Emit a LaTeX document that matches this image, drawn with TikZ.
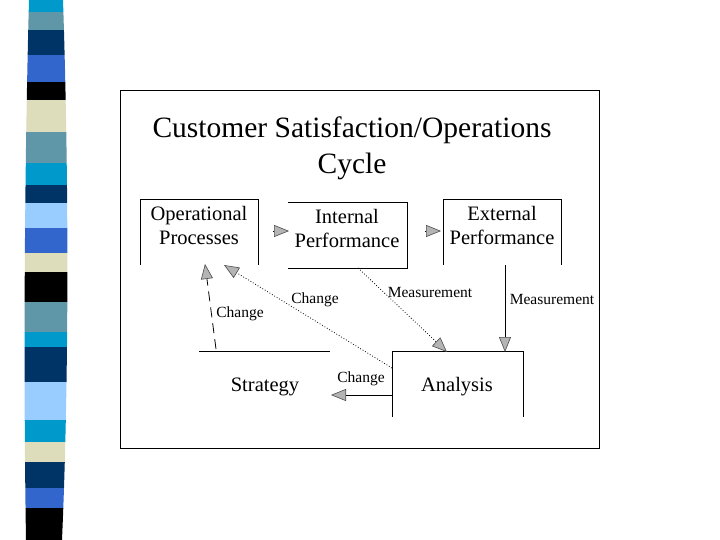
\documentclass[tikz,border=0pt]{standalone}
\usepackage{fontspec}
\setmainfont{Liberation Serif}
\usetikzlibrary{arrows.meta}
\definecolor{sCyan}{HTML}{0099CC}
\definecolor{sSteel}{HTML}{5F96A8}
\definecolor{sNavy}{HTML}{003366}
\definecolor{sRoyal}{HTML}{3366CC}
\definecolor{sBeige}{HTML}{DDDDBB}
\definecolor{sLight}{HTML}{99CCFF}
\definecolor{tipGray}{HTML}{B4B4B4}
\tikzset{
  boxline/.style={line width=1pt, black},
  boxtext/.style={font=\fontsize{20.5}{24}\selectfont, align=center, inner sep=0pt},
  lbl/.style={font=\fontsize{15.5}{17}\selectfont, inner sep=0pt},
  gtip/.style={-{Triangle[length=15pt,width=12pt,fill=tipGray,color=black!70,line width=0.6pt]}},
  conn/.style={line width=0.8pt, gtip},
}
\begin{document}
\begin{tikzpicture}[x=1pt,y=-1pt]
\useasboundingbox (0,0) rectangle (720,540);
\fill[white] (0,0) rectangle (720,540);
% left stripe
\begin{scope}
\clip (29,0) .. controls (25,150) and (23,350) .. (26,540) -- (62,540) .. controls (69,380) and (69,180) .. (63,0) -- cycle;
\fill[sCyan] (0,0) rectangle (80,12);
\fill[sSteel] (0,12) rectangle (80,30);
\fill[sNavy] (0,30) rectangle (80,55);
\fill[sRoyal] (0,55) rectangle (80,82);
\fill[black] (0,82) rectangle (80,100);
\fill[sBeige] (0,100) rectangle (80,132);
\fill[sSteel] (0,132) rectangle (80,163);
\fill[sCyan] (0,163) rectangle (80,185);
\fill[sNavy] (0,185) rectangle (80,203);
\fill[sLight] (0,203) rectangle (80,228);
\fill[sRoyal] (0,228) rectangle (80,253);
\fill[sBeige] (0,253) rectangle (80,272);
\fill[black] (0,272) rectangle (80,302);
\fill[sSteel] (0,302) rectangle (80,332);
\fill[sCyan] (0,332) rectangle (80,347);
\fill[sNavy] (0,347) rectangle (80,382);
\fill[sLight] (0,382) rectangle (80,420);
\fill[sCyan] (0,420) rectangle (80,442);
\fill[sBeige] (0,442) rectangle (80,462);
\fill[sNavy] (0,462) rectangle (80,488);
\fill[sRoyal] (0,488) rectangle (80,508);
\fill[black] (0,508) rectangle (80,540);
\end{scope}
% frame
\draw[line width=0.8pt] (120.5,90.5) rectangle (599.5,448.5);
% title
\node[font=\fontsize{29.5}{36}\selectfont, align=center, inner sep=0pt] (title) at (352,148) {Customer Satisfaction/Operations\\Cycle};
% boxes
\draw[boxline] (140,265) -- (140,200) -- (258,200) -- (258,265);
\draw[boxline] (288,203) -- (407,203) -- (407,268) -- (288,268);
\draw[boxline] (443,265) -- (443,200) -- (561,200) -- (561,265);
\draw[boxline] (199,351) -- (330,351);
\draw[boxline] (392,417) -- (392,351) -- (523,351) -- (523,417);
\node[boxtext] (op) at (199,225) {Operational\\Processes};
\node[boxtext] (ip) at (347,228) {Internal\\Performance};
\node[boxtext] (ep) at (502,225) {External\\Performance};
\node[boxtext] (st) at (265,387) {Strategy};
\node[boxtext] (an) at (457,387) {Analysis};
% coordinates
\coordinate (t1a) at (273,231); \coordinate (t1b) at (289,231);
\coordinate (t2a) at (425,231); \coordinate (t2b) at (441,231);
\coordinate (ipB) at (358,268); \coordinate (anT) at (447,352);
\coordinate (epB) at (505,265); \coordinate (anT2) at (505,352);
\coordinate (stT) at (216,349); \coordinate (opB) at (205,264);
\coordinate (anL1) at (392,368); \coordinate (opB2) at (224,265);
\coordinate (anL2) at (392,395); \coordinate (stR) at (331,395);
% connectors
\draw[gtip] (t1a) -- (t1b);
\draw[gtip] (t2a) -- (t2b);
\draw[conn, dotted] (ipB) -- (anT);
\draw[conn] (epB) -- (anT2);
\draw[conn, dash pattern=on 10pt off 6pt] (stT) -- (opB);
\draw[conn, dotted] (anL1) -- (opB2);
\draw[conn] (anL2) -- (stR);
% labels
\node[lbl] (m1) at (430,293) {Measurement};
\node[lbl] (m2) at (552,300) {Measurement};
\node[lbl] (c1) at (240,314) {Change};
\node[lbl] (c2) at (315,300) {Change};
\node[lbl] (c3) at (361,379) {Change};
\end{tikzpicture}
\end{document}
